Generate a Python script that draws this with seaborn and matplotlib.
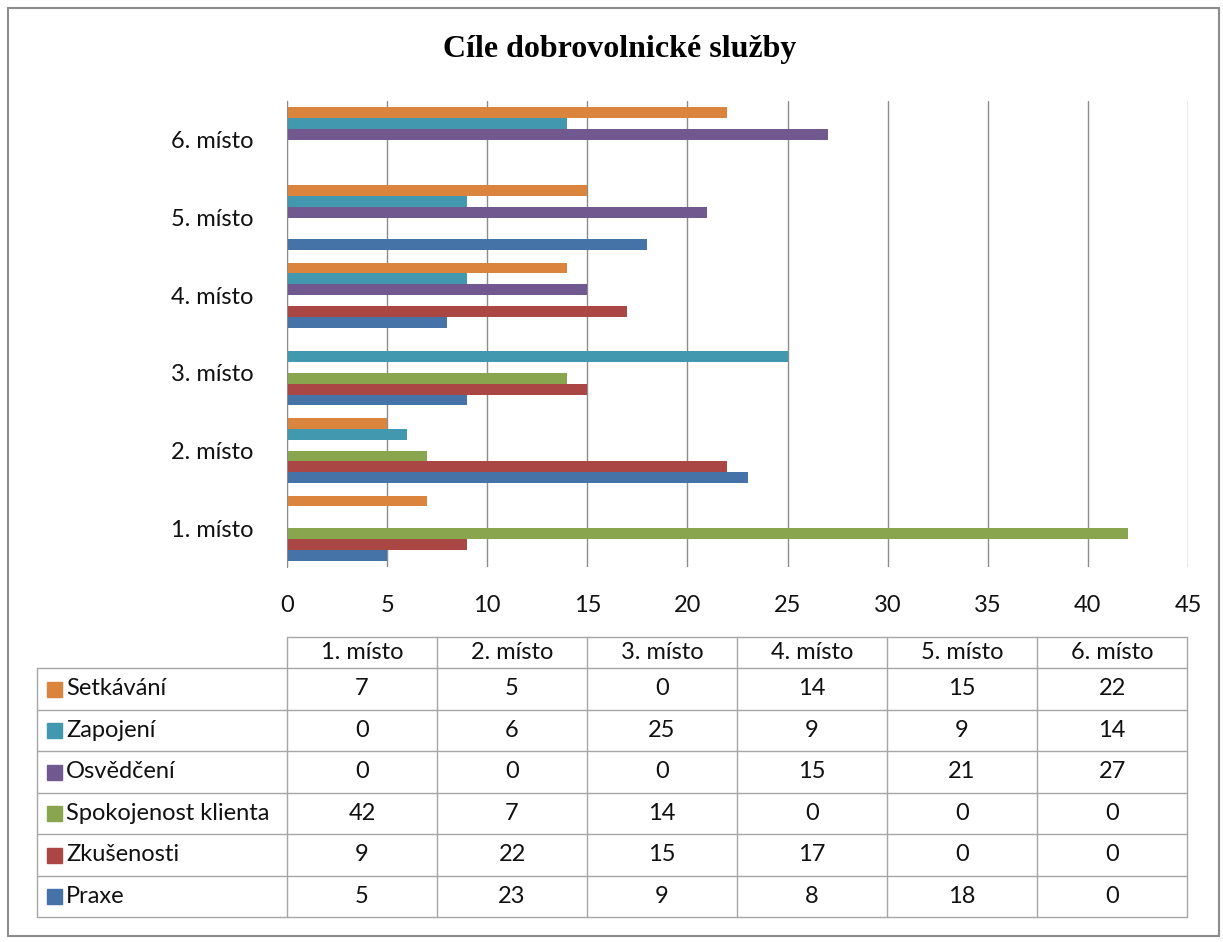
import pandas as pd
import seaborn as sns
import matplotlib.pyplot as plt
from matplotlib.patches import Rectangle

places = ["1. místo", "2. místo", "3. místo", "4. místo", "5. místo", "6. místo"]
series = ["Setkávání", "Zapojení", "Osvědčení", "Spokojenost klienta", "Zkušenosti", "Praxe"]
setkavani = [7, 5, 0, 14, 15, 22]
zapojeni = [0, 6, 25, 9, 9, 14]
osvedceni = [0, 0, 0, 15, 21, 27]
spokojenost = [42, 7, 14, 0, 0, 0]
zkusenosti = [9, 22, 15, 17, 0, 0]
praxe = [5, 23, 9, 8, 18, 0]
colors = ["#DB843D", "#4198AF", "#71588F", "#89A54E", "#AA4643", "#4572A7"]

values = [setkavani, zapojeni, osvedceni, spokojenost, zkusenosti, praxe]
rows = []
for name, vals in zip(series, values):
    for place, v in zip(places, vals):
        rows.append({"place": place, "series": name, "value": v})
df = pd.DataFrame(rows)

sns.set_style("white")
plt.rcParams['font.family'] = ['Lato', 'DejaVu Sans']

W, H = 1223, 942
FS = 17
TXT = "#111111"
fig = plt.figure(figsize=(W / 100, H / 100), dpi=100)

ax = fig.add_axes([287 / W, 1 - 567 / H, (1188 - 287) / W, (567 - 101) / H])
sns.barplot(data=df, x="value", y="place", hue="series", orient="h",
            order=places[::-1], hue_order=series, palette=colors,
            width=0.84, linewidth=0, saturation=1, legend=False, ax=ax)
ax.set_xlim(0, 45)
ax.set_xticks(range(0, 46, 5))
ax.set_xlabel("")
ax.set_ylabel("")
ax.grid(axis="x", color="#8c8c8c", linewidth=1)
ax.set_axisbelow(True)
for s in ["top", "right", "bottom"]:
    ax.spines[s].set_visible(False)
ax.spines["left"].set_color("#8c8c8c")
ax.tick_params(axis="both", length=0, labelsize=FS, colors=TXT)
ax.tick_params(axis="x", pad=20)
ax.tick_params(axis="y", pad=24)

fig.text(620 / W, 1 - 50 / H, "Cíle dobrovolnické služby", ha="center", va="center",
         fontsize=23, fontweight="bold", family="Liberation Serif", color="black")

# data table below the chart
tab = fig.add_axes([0, 0, 1, 1])
tab.set_xlim(0, W)
tab.set_ylim(H, 0)
tab.axis("off")
tab.patch.set_alpha(0)

lc = "#a6a6a6"
col_x = [287 + 150 * i for i in range(7)]
head_top, row_top, row_h = 637, 668, 41.5
bottom = row_top + row_h * len(series)

tab.plot([col_x[0], col_x[-1]], [head_top, head_top], color=lc, lw=1)
for i in range(len(series) + 1):
    y = row_top + row_h * i
    tab.plot([37, col_x[-1]], [y, y], color=lc, lw=1)
tab.plot([37, 37], [row_top, bottom], color=lc, lw=1)
for x in col_x:
    tab.plot([x, x], [head_top, bottom], color=lc, lw=1)

for j, place in enumerate(places):
    tab.text((col_x[j] + col_x[j + 1]) / 2, (head_top + row_top) / 2, place,
             ha="center", va="center", fontsize=FS, color=TXT)

for i, (name, vals, c) in enumerate(zip(series, values, colors)):
    yc = row_top + row_h * (i + 0.5)
    tab.add_patch(Rectangle((47, yc - 7), 15, 15, color=c))
    tab.text(66, yc, name, ha="left", va="center", fontsize=FS, color=TXT)
    for j, v in enumerate(vals):
        tab.text((col_x[j] + col_x[j + 1]) / 2, yc, str(v),
                 ha="center", va="center", fontsize=FS, color=TXT)

tab.add_patch(Rectangle((8, 8), W - 12, H - 14, fill=False, edgecolor="#8c8c8c", lw=1.5))

fig.savefig("out.png", dpi=100)
